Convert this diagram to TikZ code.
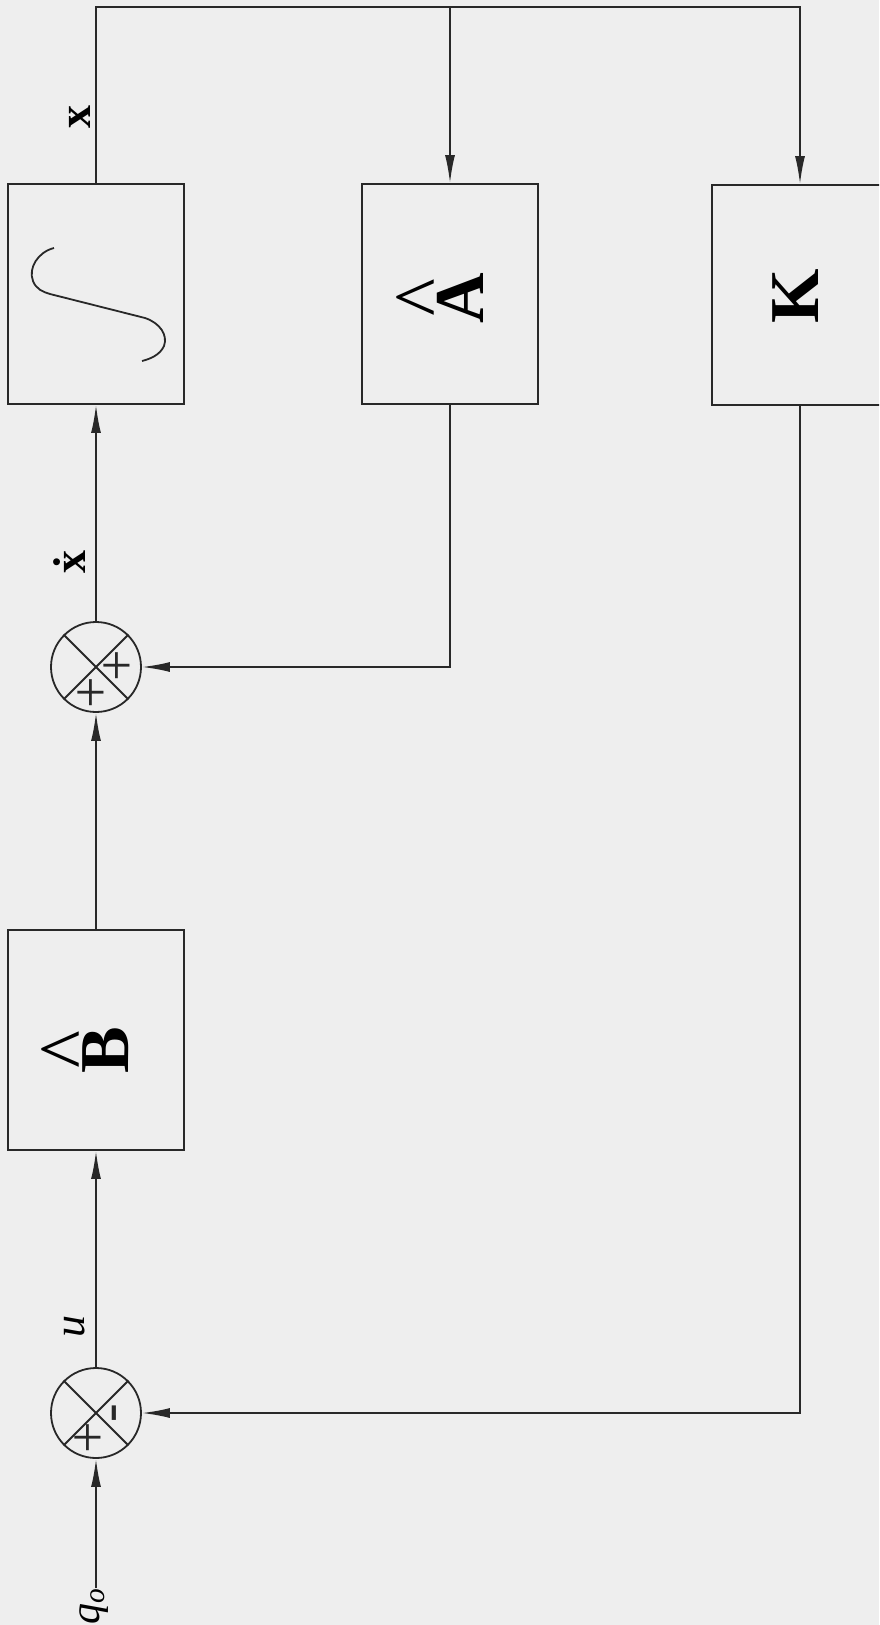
\documentclass[tikz,border=0pt]{standalone}
\usepackage{fontspec}
\setmainfont{Liberation Serif}
\usetikzlibrary{arrows.meta,calc}
\definecolor{paper}{RGB}{238,238,238}
\definecolor{ink}{RGB}{40,40,40}
% letter with a hat, set upright so it turns with the node
\newcommand{\hatlet}[1]{\ooalign{\textbf{#1}\cr\hidewidth\raisebox{34pt}{\scalebox{1.15}{\textasciicircum}}\hidewidth\cr}}

\begin{document}
\begin{tikzpicture}[x=1pt, y=-1pt, line width=1.8pt,
    >={Latex[length=28pt,width=10pt]},
    block/.style={draw=ink, rectangle, minimum width=176pt, minimum height=220pt, inner sep=0pt},
    summer/.style={draw=ink, circle, minimum size=90pt, inner sep=0pt},
    flow/.style={ink, ->},
    biglabel/.style={rotate=90, inner sep=0pt, font=\fontsize{70}{80}\selectfont},
    siglabel/.style={rotate=90, inner sep=0pt, font=\fontsize{46}{54}\selectfont},
    sign/.style={rotate=90, inner sep=0pt, text=ink, font=\fontsize{56}{60}\selectfont}]
    \useasboundingbox (0,0) rectangle (879,1625);
    \clip (0,0) rectangle (879,1625);
    \fill[paper] (0,0) rectangle (879,1625);

    \node[block] (integ) at (96,294) {};
    \node[block] (Ahat) at (450,294) {};
    \node[block] (K) at (800,295) {};
    \node[block] (B) at (96,1040) {};
    \node[summer] (s1) at (96,667) {};
    \node[summer] (s2) at (96,1413) {};
    \coordinate (topr) at (800,7);
    \coordinate (qin) at (96,1588);

    % integral sign, turned
    \draw[ink] ($(integ)+(-42,-46)$) .. controls ($(integ)+(-58,-42)$) and ($(integ)+(-68,-26)$) .. ($(integ)+(-63,-13)$)
        .. controls ($(integ)+(-60,-5)$) and ($(integ)+(-53,-2)$) .. ($(integ)+(-46,0)$)
        -- ($(integ)+(49,24)$)
        .. controls ($(integ)+(64,29)$) and ($(integ)+(72,41)$) .. ($(integ)+(68,52)$)
        .. controls ($(integ)+(64,61)$) and ($(integ)+(54,65)$) .. ($(integ)+(46,67)$);

    \node[biglabel] (Alab) at (460,298) {\hatlet{A}};
    \node[biglabel] (Klab) at (796,296) {\textbf{K}};
    \node[biglabel] (Blab) at (106,1050) {\hatlet{B}};

    \foreach \s in {s1, s2} {
        \draw[ink] (\s.north west) -- (\s.south east) (\s.north east) -- (\s.south west);
    }
    \node[sign] (s1e) at ($(s1)+(24,-1)$) {+};
    \node[sign] (s1s) at ($(s1)+(-2,26)$) {+};
    \node[sign] (s2e) at ($(s2)+(24,0)$) {-};
    \node[sign] (s2s) at ($(s2)+(-5,25)$) {+};

    % forward path
    \draw[flow] (qin) -- (s2.south);
    \draw[flow] (s2.north) -- (B.south);
    \draw[flow] (B.north) -- (s1.south);
    \draw[flow] (s1.north) -- (integ.south);
    \draw[flow] (integ.north) |- (topr) -- (K.north);
    \draw[flow] (Ahat.north |- topr) -- (Ahat.north);

    % feedback paths
    \draw[flow] (Ahat.south) |- (s1.east);
    \draw[flow] (K.south) |- (s2.east);

    \node[siglabel] (xlab) at (80,117) {\textbf{x}};
    \node[siglabel] (xdotlab) at (70,562) {\textbf{\.{x}}};
    \node[siglabel, font=\fontsize{44}{50}\selectfont] (ulab) at (75,1326) {\textit{u}};
    \node[siglabel, font=\fontsize{42}{50}\selectfont] (qlab) at (94,1606) {\textit{q}\textsubscript{\textit{o}}};
\end{tikzpicture}
\end{document}
